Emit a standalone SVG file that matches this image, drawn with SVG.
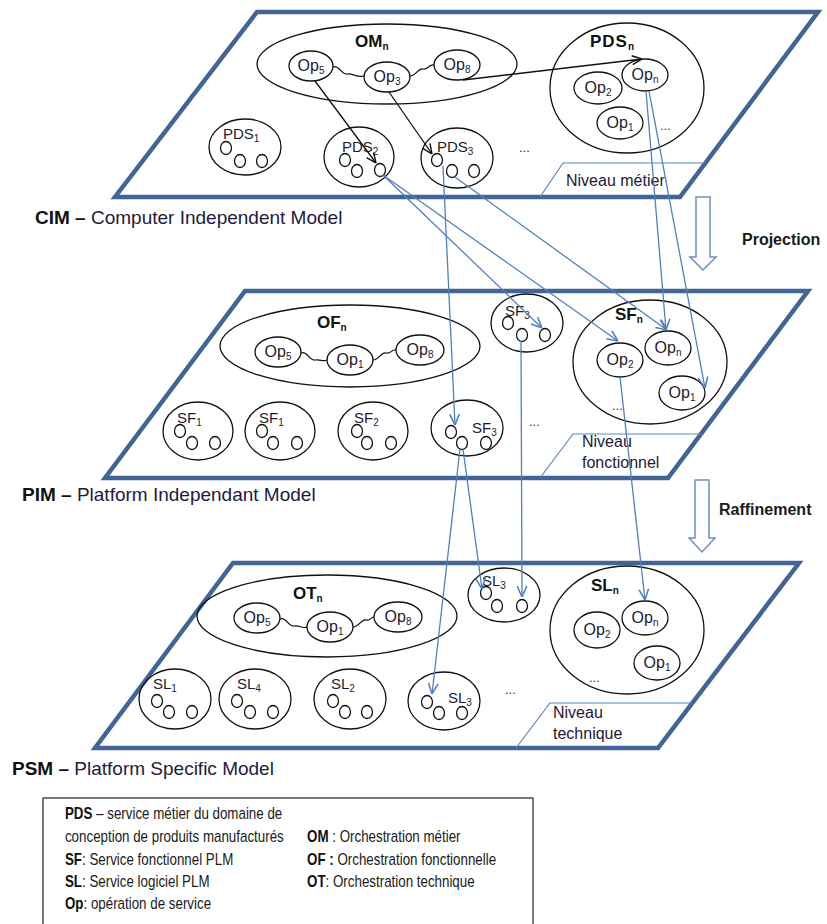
<svg xmlns="http://www.w3.org/2000/svg" width="827" height="924" viewBox="0 0 827 924">
<defs>
<style>
.plane{fill:#fff;stroke:#416594;stroke-width:4.5;stroke-linejoin:miter}
.tab{fill:none;stroke:#5B87C0;stroke-width:1.2}
.ell{fill:#fff;stroke:#111;stroke-width:1.3}
.grp{fill:none;stroke:#111;stroke-width:1.3}
.dot{fill:#fff;stroke:#111;stroke-width:1.3}
.wig{fill:none;stroke:#111;stroke-width:1.2}
.op{font-family:"Liberation Sans",Arial,sans-serif;font-size:16px;fill:#1e1a30;text-anchor:middle}
.lbl{font-family:"Liberation Sans",Arial,sans-serif;font-size:15px;fill:#1e1a30}
.big{font-family:"Liberation Sans",Arial,sans-serif;font-size:17px;font-weight:bold;fill:#111}
.sub{font-size:10px}
.dots{font-family:"Liberation Sans",Arial,sans-serif;font-size:13px;fill:#333}
.niv{font-family:"Liberation Sans",Arial,sans-serif;font-size:16px;fill:#1e1a30}
.model{font-family:"Liberation Sans",Arial,sans-serif;font-size:19px;fill:#1e1a40}
.step{font-family:"Liberation Sans",Arial,sans-serif;font-size:16px;font-weight:bold;fill:#1a1a1a}
.leg{font-family:"Liberation Sans",Arial,sans-serif;font-size:16px;fill:#1a1a1a}
.b{font-weight:bold;fill:#111}
.hollow{fill:#fff;stroke:#6F8FBF;stroke-width:1.5}
.ka{fill:none;stroke:#111;stroke-width:1.3;marker-end:url(#mk)}
.ba{fill:none;stroke:#4F81BD;stroke-width:1.3;marker-end:url(#mb)}
</style>
<marker id="mk" viewBox="0 0 10 10" refX="10" refY="5" markerWidth="11" markerHeight="11" markerUnits="userSpaceOnUse" orient="auto"><path d="M1,1 L10,5 L1,9" fill="none" stroke="#111" stroke-width="1.3"/></marker>
<marker id="mb" viewBox="0 0 10 10" refX="10" refY="5" markerWidth="12" markerHeight="12" markerUnits="userSpaceOnUse" orient="auto"><path d="M1,1 L10,5 L1,9" fill="none" stroke="#4F81BD" stroke-width="1.3"/></marker>
</defs>

<!-- Planes -->
<g id="plane-cim">
<polygon class="plane" points="257,12 818,12 680,197 115,197"/>
<polyline class="tab" points="540,197 563,163 705,163"/>
<text class="niv" x="566" y="186">Niveau métier</text>
<text class="model" x="35" y="224"><tspan class="b">CIM –</tspan> Computer Independent Model</text>
</g>
<g id="plane-pim">
<polygon class="plane" points="245,291 808,291 668,478 105,478"/>
<polyline class="tab" points="540,478 573,434 701,434"/>
<text class="niv" x="582" y="447">Niveau</text>
<text class="niv" x="582" y="468">fonctionnel</text>
<text class="model" x="22" y="501"><tspan class="b">PIM –</tspan> Platform Independant  Model</text>
</g>
<g id="plane-psm">
<polygon class="plane" points="233,563 799,563 658,748 95,748"/>
<polyline class="tab" points="516,748 550,703 692,703"/>
<text class="niv" x="553" y="718">Niveau</text>
<text class="niv" x="553" y="739">technique</text>
<text class="model" x="12" y="775"><tspan class="b">PSM –</tspan> Platform Specific Model</text>
</g>

<!-- CIM nodes -->
<g id="om">
<ellipse class="grp" cx="387" cy="64" rx="130" ry="40"/>
<text class="big" x="355" y="47">OM<tspan class="sub" dy="3">n</tspan></text>
<path class="wig" d="M333,67 C339,64 341,75 347,74 C353,73 357,78 364,76"/>
<path class="wig" d="M410,76 C416,76 418,68 423,69 C428,70 429,64 434,65"/>
</g>
<g id="om-op5"><ellipse class="ell" cx="311" cy="66" rx="22" ry="15"/><text class="op" x="311" y="71">Op<tspan class="sub" dy="3">5</tspan></text></g>
<g id="om-op3"><ellipse class="ell" cx="387" cy="77" rx="23" ry="15"/><text class="op" x="387" y="82">Op<tspan class="sub" dy="3">3</tspan></text></g>
<g id="om-op8"><ellipse class="ell" cx="457" cy="65" rx="23" ry="15"/><text class="op" x="457" y="70">Op<tspan class="sub" dy="3">8</tspan></text></g>

<g id="pdsn">
<ellipse class="grp" cx="627" cy="88" rx="77" ry="65"/>
<text class="big" x="590" y="47" letter-spacing="1">PDS<tspan class="sub" dy="3" letter-spacing="0">n</tspan></text>
<ellipse class="ell" cx="598" cy="88" rx="24" ry="16"/><text class="op" x="598" y="93">Op<tspan class="sub" dy="3">2</tspan></text>
<ellipse class="ell" cx="645" cy="75" rx="23" ry="16"/><text class="op" x="645" y="80">Op<tspan class="sub" dy="3">n</tspan></text>
<ellipse class="ell" cx="620" cy="123" rx="23" ry="16"/><text class="op" x="620" y="128">Op<tspan class="sub" dy="3">1</tspan></text>
<text class="dots" x="660" y="130">...</text>
</g>

<g id="pds1">
<ellipse class="grp" cx="245" cy="147" rx="36" ry="28"/>
<text class="lbl" x="223" y="139">PDS<tspan class="sub" dy="3">1</tspan></text>
<ellipse class="dot" cx="226" cy="148" rx="5.5" ry="6.5"/><ellipse class="dot" cx="240" cy="161" rx="5.5" ry="6.5"/><ellipse class="dot" cx="262" cy="161" rx="5.5" ry="6.5"/>
</g>
<g id="pds2">
<ellipse class="grp" cx="359" cy="157" rx="35" ry="30"/>
<text class="lbl" x="342" y="152">PDS<tspan class="sub" dy="3">2</tspan></text>
<ellipse class="dot" cx="345" cy="160" rx="5.5" ry="6.5"/><ellipse class="dot" cx="357" cy="171" rx="5.5" ry="6.5"/><ellipse class="dot" cx="380" cy="170" rx="5.5" ry="6.5"/>
</g>
<g id="pds3">
<ellipse class="grp" cx="457" cy="158" rx="36" ry="30"/>
<text class="lbl" x="437" y="152">PDS<tspan class="sub" dy="3">3</tspan></text>
<ellipse class="dot" cx="437" cy="160" rx="5.5" ry="6.5"/><ellipse class="dot" cx="452" cy="171" rx="5.5" ry="6.5"/><ellipse class="dot" cx="474" cy="171" rx="5.5" ry="6.5"/>
</g>
<text class="dots" x="519" y="152">...</text>

<!-- PIM nodes -->
<g id="of">
<ellipse class="grp" cx="350" cy="346" rx="130" ry="41"/>
<text class="big" x="317" y="328">OF<tspan class="sub" dy="3">n</tspan></text>
<path class="wig" d="M301,353 C307,350 309,361 315,360 C321,359 322,362 327,360"/>
<path class="wig" d="M373,360 C379,360 381,352 386,353 C391,354 392,349 396,350"/>
</g>
<g id="of-op5"><ellipse class="ell" cx="278" cy="352" rx="23" ry="15"/><text class="op" x="278" y="357">Op<tspan class="sub" dy="3">5</tspan></text></g>
<g id="of-op1"><ellipse class="ell" cx="350" cy="360" rx="23" ry="15"/><text class="op" x="350" y="365">Op<tspan class="sub" dy="3">1</tspan></text></g>
<g id="of-op8"><ellipse class="ell" cx="420" cy="350" rx="24" ry="15"/><text class="op" x="420" y="355">Op<tspan class="sub" dy="3">8</tspan></text></g>

<g id="sf1a">
<ellipse class="grp" cx="198" cy="431" rx="35" ry="29"/>
<text class="lbl" x="177" y="423">SF<tspan class="sub" dy="3">1</tspan></text>
<ellipse class="dot" cx="180" cy="431" rx="5.5" ry="6.5"/><ellipse class="dot" cx="192" cy="443" rx="5.5" ry="6.5"/><ellipse class="dot" cx="215" cy="443" rx="5.5" ry="6.5"/>
</g>
<g id="sf1b">
<ellipse class="grp" cx="280" cy="431" rx="35" ry="29"/>
<text class="lbl" x="259" y="423">SF<tspan class="sub" dy="3">1</tspan></text>
<ellipse class="dot" cx="262" cy="431" rx="5.5" ry="6.5"/><ellipse class="dot" cx="273" cy="443" rx="5.5" ry="6.5"/><ellipse class="dot" cx="297" cy="443" rx="5.5" ry="6.5"/>
</g>
<g id="sf2">
<ellipse class="grp" cx="373" cy="431" rx="35" ry="29"/>
<text class="lbl" x="354" y="423">SF<tspan class="sub" dy="3">2</tspan></text>
<ellipse class="dot" cx="357" cy="431" rx="5.5" ry="6.5"/><ellipse class="dot" cx="367" cy="443" rx="5.5" ry="6.5"/><ellipse class="dot" cx="391" cy="443" rx="5.5" ry="6.5"/>
</g>
<g id="sf3b">
<ellipse class="grp" cx="467" cy="428" rx="36" ry="28"/>
<text class="lbl" x="472" y="433">SF<tspan class="sub" dy="3">3</tspan></text>
<ellipse class="dot" cx="451" cy="432" rx="5.5" ry="6.5"/><ellipse class="dot" cx="462" cy="443" rx="5.5" ry="6.5"/><ellipse class="dot" cx="486" cy="443" rx="5.5" ry="6.5"/>
</g>
<g id="sf3t">
<ellipse class="grp" cx="527" cy="323" rx="36" ry="29"/>
<text class="lbl" x="505" y="316">SF<tspan class="sub" dy="3">3</tspan></text>
<ellipse class="dot" cx="508" cy="323" rx="5.5" ry="6.5"/><ellipse class="dot" cx="522" cy="335" rx="5.5" ry="6.5"/><ellipse class="dot" cx="545" cy="335" rx="5.5" ry="6.5"/>
</g>
<g id="sfn">
<ellipse class="grp" cx="650" cy="362" rx="77" ry="62"/>
<text class="big" x="615" y="320">SF<tspan class="sub" dy="3">n</tspan></text>
<ellipse class="ell" cx="620" cy="360" rx="23" ry="17"/><text class="op" x="620" y="365">Op<tspan class="sub" dy="3">2</tspan></text>
<ellipse class="ell" cx="668" cy="348" rx="23" ry="17"/><text class="op" x="668" y="353">Op<tspan class="sub" dy="3">n</tspan></text>
<ellipse class="ell" cx="682" cy="393" rx="23" ry="17"/><text class="op" x="682" y="398">Op<tspan class="sub" dy="3">1</tspan></text>
<text class="dots" x="612" y="410">...</text>
</g>
<text class="dots" x="529" y="426">...</text>

<!-- PSM nodes -->
<g id="ot">
<ellipse class="grp" cx="327" cy="616" rx="130" ry="41"/>
<text class="big" x="293" y="599">OT<tspan class="sub" dy="3">n</tspan></text>
<path class="wig" d="M280,619 C286,616 288,627 294,626 C300,625 302,629 307,627"/>
<path class="wig" d="M353,627 C359,627 361,619 366,620 C371,621 371,616 375,617"/>
</g>
<g id="ot-op5"><ellipse class="ell" cx="257" cy="618" rx="23" ry="15"/><text class="op" x="257" y="623">Op<tspan class="sub" dy="3">5</tspan></text></g>
<g id="ot-op1"><ellipse class="ell" cx="330" cy="627" rx="23" ry="15"/><text class="op" x="330" y="632">Op<tspan class="sub" dy="3">1</tspan></text></g>
<g id="ot-op8"><ellipse class="ell" cx="398" cy="617" rx="24" ry="15"/><text class="op" x="398" y="622">Op<tspan class="sub" dy="3">8</tspan></text></g>

<g id="sl1">
<ellipse class="grp" cx="175" cy="699" rx="36" ry="30"/>
<text class="lbl" x="153" y="689">SL<tspan class="sub" dy="3">1</tspan></text>
<ellipse class="dot" cx="157" cy="701" rx="5.5" ry="6.5"/><ellipse class="dot" cx="169" cy="712" rx="5.5" ry="6.5"/><ellipse class="dot" cx="192" cy="712" rx="5.5" ry="6.5"/>
</g>
<g id="sl4">
<ellipse class="grp" cx="255" cy="699" rx="36" ry="30"/>
<text class="lbl" x="237" y="689">SL<tspan class="sub" dy="3">4</tspan></text>
<ellipse class="dot" cx="237" cy="701" rx="5.5" ry="6.5"/><ellipse class="dot" cx="250" cy="712" rx="5.5" ry="6.5"/><ellipse class="dot" cx="273" cy="712" rx="5.5" ry="6.5"/>
</g>
<g id="sl2">
<ellipse class="grp" cx="350" cy="699" rx="36" ry="30"/>
<text class="lbl" x="331" y="689">SL<tspan class="sub" dy="3">2</tspan></text>
<ellipse class="dot" cx="333" cy="701" rx="5.5" ry="6.5"/><ellipse class="dot" cx="345" cy="712" rx="5.5" ry="6.5"/><ellipse class="dot" cx="367" cy="712" rx="5.5" ry="6.5"/>
</g>
<g id="sl3b">
<ellipse class="grp" cx="444" cy="701" rx="36" ry="29"/>
<text class="lbl" x="448" y="703">SL<tspan class="sub" dy="3">3</tspan></text>
<ellipse class="dot" cx="427" cy="702" rx="5.5" ry="6.5"/><ellipse class="dot" cx="439" cy="713" rx="5.5" ry="6.5"/><ellipse class="dot" cx="462" cy="713" rx="5.5" ry="6.5"/>
</g>
<text class="dots" x="505" y="694">...</text>
<g id="sl3t">
<ellipse class="grp" cx="504" cy="595" rx="36" ry="27"/>
<text class="lbl" x="482" y="586">SL<tspan class="sub" dy="3">3</tspan></text>
<ellipse class="dot" cx="486" cy="593" rx="5.5" ry="6.5"/><ellipse class="dot" cx="497" cy="606" rx="5.5" ry="6.5"/><ellipse class="dot" cx="522" cy="606" rx="5.5" ry="6.5"/>
</g>
<g id="sln">
<ellipse class="grp" cx="627" cy="630" rx="77" ry="64"/>
<text class="big" x="591" y="591">SL<tspan class="sub" dy="3">n</tspan></text>
<ellipse class="ell" cx="597" cy="630" rx="23" ry="18"/><text class="op" x="597" y="635">Op<tspan class="sub" dy="3">2</tspan></text>
<ellipse class="ell" cx="645" cy="618" rx="23" ry="17"/><text class="op" x="645" y="623">Op<tspan class="sub" dy="3">n</tspan></text>
<ellipse class="ell" cx="657" cy="663" rx="23" ry="17"/><text class="op" x="657" y="668">Op<tspan class="sub" dy="3">1</tspan></text>
<text class="dots" x="589" y="682">...</text>
</g>

<!-- Transformation arrows -->
<g id="projection">
<path class="hollow" d="M696,197 L710,197 L710,257 L716,257 L703,270 L690,257 L696,257 Z"/>
<text class="step" x="742" y="245">Projection</text>
</g>
<g id="raffinement">
<path class="hollow" d="M695,480 L709,480 L709,538 L715,538 L702,552 L689,538 L695,538 Z"/>
<text class="step" x="719" y="515">Raffinement</text>
</g>

<!-- Connectors -->
<g id="connectors">
<line class="ka" x1="315" y1="81" x2="376" y2="163"/>
<line class="ka" x1="389" y1="92" x2="432" y2="154"/>
<line class="ka" x1="463" y1="80" x2="642" y2="59"/>
<line class="ba" x1="383" y1="175" x2="542" y2="328"/>
<line class="ba" x1="383" y1="175" x2="618" y2="341"/>
<line class="ba" x1="443" y1="166" x2="455" y2="425"/>
<line class="ba" x1="455" y1="177" x2="667" y2="330"/>
<line class="ba" x1="646" y1="91" x2="666" y2="330"/>
<line class="ba" x1="649" y1="91" x2="705" y2="388"/>
<line class="ba" x1="460" y1="449" x2="432" y2="694"/>
<line class="ba" x1="463" y1="449" x2="482" y2="589"/>
<line class="ba" x1="521" y1="341" x2="522" y2="597"/>
<line class="ba" x1="620" y1="377" x2="645" y2="600"/>
</g>

<!-- Legend -->
<g id="legend">
<rect x="43" y="798" width="490" height="140" fill="#fff" stroke="#333" stroke-width="1.3"/>
<g transform="scale(0.835,1)">
<text class="leg" x="77.8" y="819"><tspan class="b">PDS</tspan> – service métier du domaine  de</text>
<text class="leg" x="77.8" y="842">conception de produits manufacturés</text>
<text class="leg" x="77.8" y="865"><tspan class="b">SF</tspan>: Service fonctionnel PLM</text>
<text class="leg" x="77.8" y="887"><tspan class="b">SL</tspan>: Service logiciel PLM</text>
<text class="leg" x="77.8" y="909"><tspan class="b">Op</tspan>: opération de service</text>
<text class="leg" x="367.7" y="842"><tspan class="b">OM</tspan> : Orchestration métier</text>
<text class="leg" x="367.7" y="865"><tspan class="b">OF :</tspan> Orchestration fonctionnelle</text>
<text class="leg" x="367.7" y="887"><tspan class="b">OT</tspan>: Orchestration technique</text>
</g>
</g>
</svg>
